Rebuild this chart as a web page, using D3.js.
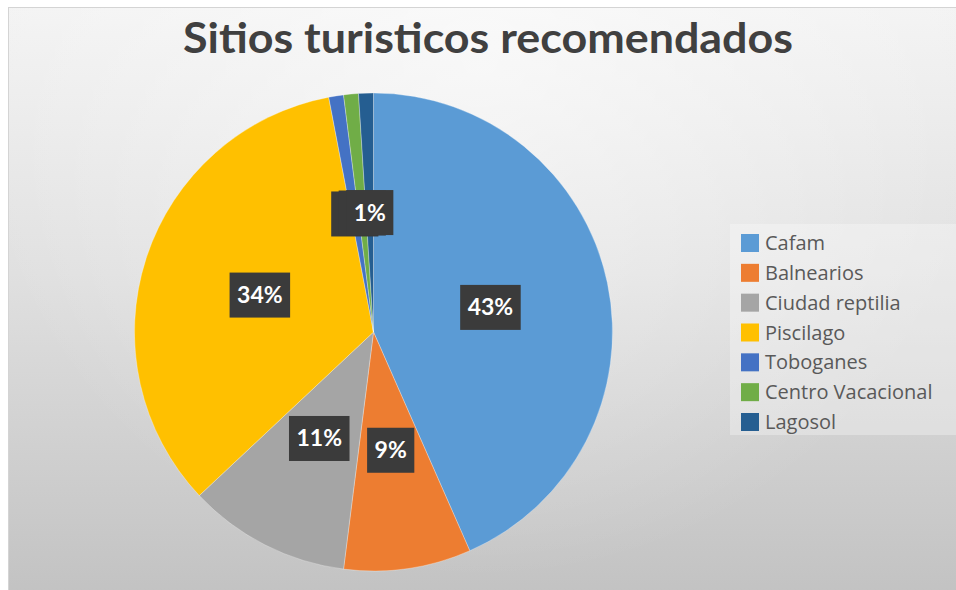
<!DOCTYPE html>
<html><head><meta charset="utf-8">
<script src="https://cdn.jsdelivr.net/npm/d3@7"></script>
<style>html,body{margin:0;padding:0;background:#fff;}svg{display:block;}</style>
</head><body>
<svg id="chart" width="956" height="590"></svg>
<script>
const title = "Sitios turisticos recomendados";
const categories = ["Cafam","Balnearios","Ciudad reptilia","Piscilago","Toboganes","Centro Vacacional","Lagosol"];
const values = [43.4, 8.6, 11.0, 34.0, 1.0, 1.0, 1.0];
const colors = ["#5B9BD5","#ED7D31","#A5A5A5","#FFC000","#4472C4","#70AD47","#255E91"];

const W = 956, H = 590;
const svg = d3.select("#chart");
const defs = svg.append("defs");
const lg = defs.append("linearGradient").attr("id","bg").attr("x1",0).attr("y1",0).attr("x2",0).attr("y2",1);
lg.append("stop").attr("offset","0%").attr("stop-color","#f3f3f3");
lg.append("stop").attr("offset","45%").attr("stop-color","#e0e0e0");
lg.append("stop").attr("offset","100%").attr("stop-color","#c2c2c2");
const rg = defs.append("radialGradient").attr("id","glow").attr("gradientUnits","userSpaceOnUse")
  .attr("cx",480).attr("cy",60).attr("r",520);
rg.append("stop").attr("offset","0%").attr("stop-color","#ffffff").attr("stop-opacity",0.55);
rg.append("stop").attr("offset","100%").attr("stop-color","#ffffff").attr("stop-opacity",0);

svg.append("rect").attr("x",8.5).attr("y",7.5).attr("width",W).attr("height",H)
  .attr("fill","url(#bg)").attr("stroke","#d4d4d4");
svg.append("rect").attr("x",9).attr("y",8).attr("width",W).attr("height",H).attr("fill","url(#glow)");

// Title
const t = svg.append("text").attr("x",488).attr("y",53).attr("text-anchor","middle")
  .attr("font-family","Lato, 'Open Sans', sans-serif").attr("font-weight","bold")
  .attr("font-size",42).attr("fill","#404040").text(title);
t.attr("textLength",610).attr("lengthAdjust","spacingAndGlyphs");

// Pie
const cx = 373.5, cy = 332, R = 239;
const pie = d3.pie().sort(null).value(d => d.v);
const data = categories.map((c,i) => ({c, v: values[i], col: colors[i]}));
const arcs = pie(data);
const arc = d3.arc().innerRadius(0).outerRadius(R);
const g = svg.append("g").attr("transform",`translate(${cx},${cy})`);
g.selectAll("path").data(arcs).join("path")
  .attr("d",arc).attr("fill",d=>d.data.col)
  .attr("stroke","#ffffff").attr("stroke-opacity",0.5).attr("stroke-width",0.6);

// Data labels: later labels are drawn over earlier ones; a label whose
// text is covered by a later box is hidden (as in the reference).
const total = d3.sum(values);
const fmt = d3.format(".0%");
const lab = g.append("g");
const boxes = arcs.map(d => {
  const [x,y] = arc.centroid(d);
  const gg = lab.append("g").attr("transform",`translate(${x},${y})`);
  const tt = gg.append("text").attr("text-anchor","middle").attr("y",8)
    .attr("font-family","Lato, 'Open Sans', sans-serif").attr("font-weight","bold")
    .attr("font-size",23).attr("fill","#ffffff").text(fmt(d.data.v/total));
  const tw = tt.node().getComputedTextLength();
  const w = tw + 15;
  gg.insert("rect","text").attr("x",-w/2).attr("y",-22.5).attr("width",w).attr("height",45)
    .attr("fill","#3b3b3b");
  return {x, y, w, tw, tt};
});
boxes.forEach((b,i) => {
  const covered = boxes.slice(i+1).some(o =>
    Math.abs(o.x - b.x) < (o.w/2 + b.tw/2) && Math.abs(o.y - b.y) < 30);
  if (covered) b.tt.remove();
});

// Legend
svg.append("rect").attr("x",730).attr("y",224).attr("width",230).attr("height",211)
  .attr("fill","#ffffff").attr("opacity",0.3);
const leg = svg.append("g");
const rowY = d3.scalePoint().domain(categories).range([243,422]);
categories.forEach((c,i) => {
  const y = rowY(c);
  leg.append("rect").attr("x",741).attr("y",y-9).attr("width",18).attr("height",18).attr("fill",colors[i]);
  leg.append("text").attr("x",765).attr("y",y+7)
    .attr("font-family","'Open Sans', Lato, sans-serif").attr("font-size",20)
    .attr("fill","#595959").text(c);
});
</script>
</body></html>
